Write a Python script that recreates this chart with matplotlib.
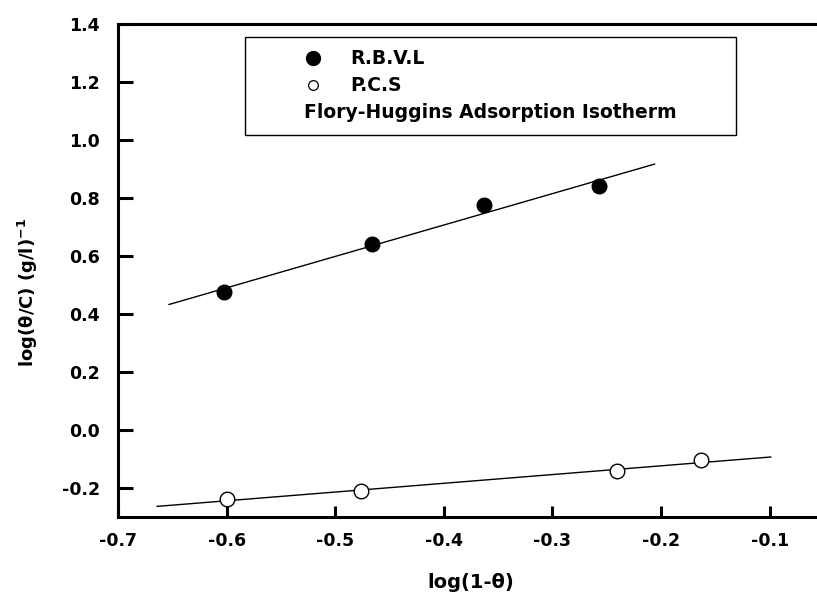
import numpy as np
import matplotlib
matplotlib.use("Agg")
import matplotlib.pyplot as plt
from matplotlib.patches import Rectangle

# Flory-Huggins isotherm data
x_rbvl = [-0.602, -0.466, -0.363, -0.257]
y_rbvl = [0.476, 0.641, 0.775, 0.840]
x_pcs = [-0.600, -0.476, -0.241, -0.163]
y_pcs = [-0.239, -0.212, -0.143, -0.105]

# extent of the fitted lines
fit_range_rbvl = [-0.653, -0.206]
fit_range_pcs = [-0.664, -0.099]

x_ticks = [-0.7, -0.6, -0.5, -0.4, -0.3, -0.2, -0.1]
y_ticks = [-0.2, 0.0, 0.2, 0.4, 0.6, 0.8, 1.0, 1.2, 1.4]

plt.rcParams['font.family'] = ['DejaVu Sans']
plt.rcParams['font.weight'] = 'bold'
plt.rcParams['mathtext.default'] = 'bf'

FS = 12.5
LFS = 13.5

fig = plt.figure(figsize=(8.17, 5.93), dpi=100)
ax = fig.add_axes([118 / 817, 76 / 593, 706 / 817, 493 / 593])

# fitted straight lines (least squares)
for xs, ys, rng in [(x_rbvl, y_rbvl, fit_range_rbvl), (x_pcs, y_pcs, fit_range_pcs)]:
    k, b = np.polyfit(xs, ys, 1)
    xl = np.array(rng)
    ax.plot(xl, k * xl + b, color='black', lw=1.0)

ax.plot(x_rbvl, y_rbvl, 'o', color='black', ms=10.5, zorder=3)
ax.plot(x_pcs, y_pcs, 'o', mfc='white', mec='black', mew=1.0, ms=10.5, zorder=3)

ax.set_xlim(-0.7, -0.05)
ax.set_ylim(-0.3, 1.4)
ax.set_xticks(x_ticks)
ax.set_yticks(y_ticks)
ax.set_xticklabels([f"{v:.1f}" for v in x_ticks], fontsize=FS, fontweight='bold')
ax.set_yticklabels([f"{v:.1f}" for v in y_ticks], fontsize=FS, fontweight='bold')
ax.tick_params(axis='y', direction='in', length=11, width=2.2, pad=13)
ax.tick_params(axis='x', direction='in', length=8, width=2.2, pad=11)
for s in ['left', 'bottom', 'top']:
    ax.spines[s].set_linewidth(2.2)
ax.spines['right'].set_visible(False)

ax.set_xlabel('log(1-θ)', fontsize=14, fontweight='bold')
ax.set_ylabel(r'log(θ/C) (g/l)$^{-1}$', fontsize=13, fontweight='bold')
ax.xaxis.set_label_coords(0.5, -0.114)
ax.yaxis.set_label_coords(-0.11, 0.456)

# legend box
tr = ax.transAxes
ax.add_patch(Rectangle((0.180, 0.7748), 0.695, 0.1988, transform=tr,
                       fill=False, edgecolor='black', lw=1.0, zorder=4))
ax.plot([0.276], [0.931], 'o', color='black', ms=10, transform=tr, clip_on=False)
ax.plot([0.276], [0.876], 'o', mfc='white', mec='black', ms=7, mew=0.9,
        transform=tr, clip_on=False)
ax.text(0.3286, 0.931, 'R.B.V.L', transform=tr, fontsize=LFS, fontweight='bold',
        va='center', ha='left')
ax.text(0.3286, 0.876, 'P.C.S', transform=tr, fontsize=LFS, fontweight='bold',
        va='center', ha='left')
ax.text(0.5275, 0.8195, 'Flory-Huggins Adsorption Isotherm', transform=tr,
        fontsize=LFS, fontweight='bold', va='center', ha='center')

fig.savefig('out.png', dpi=100)
